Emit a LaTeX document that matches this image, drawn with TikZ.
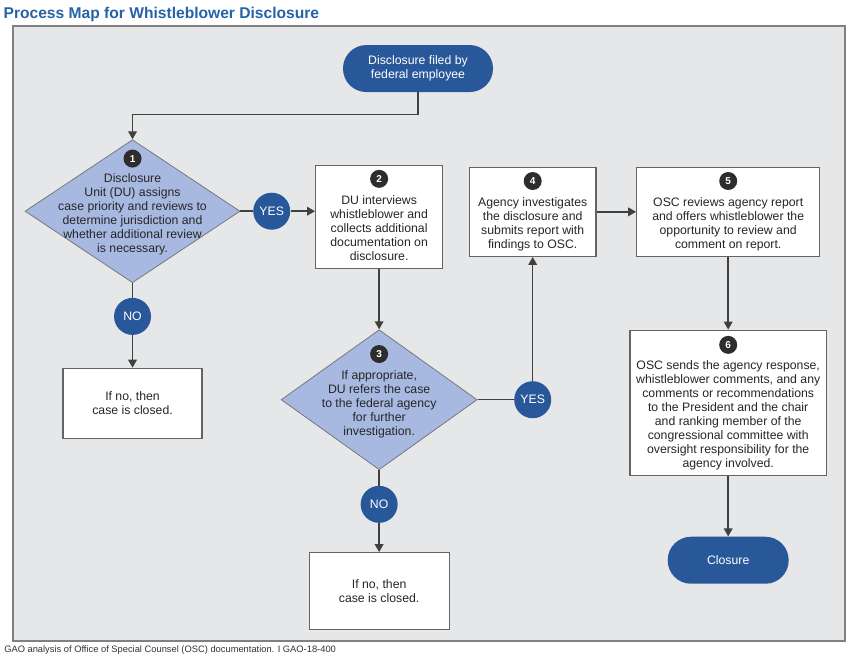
\documentclass[tikz,border=0pt]{standalone}
\usepackage{fontspec}
\setmainfont{Liberation Sans}
\usepackage{tikz}
\usetikzlibrary{shapes.geometric,arrows.meta,positioning}
\newcommand{\bodyfont}{\fontsize{9.2}{10.5}\selectfont}
\newcommand{\numgap}{\rule{0pt}{18.75pt}\\}
\newcommand{\bottomgap}{\rule[-6pt]{0pt}{6pt}}
\tikzstyle{terminal} = [rectangle, rounded corners=17.5pt, minimum width=112.5pt, minimum height=35.25pt, fill=gaoblue, text=white, font=\bodyfont, align=center]
\tikzstyle{decision} = [diamond, draw=decdraw, line width=0.6pt, fill=decfill, inner sep=0pt]
\tikzstyle{dectext} = [inner sep=0pt, align=center, font=\bodyfont, text=black!85]
\tikzstyle{stepbox} = [rectangle, draw=boxdraw, line width=0.9pt, fill=white, inner xsep=3pt, inner ysep=0pt, align=center, font=\bodyfont, text=black!85]
\tikzstyle{closedbox} = [rectangle, draw=boxdraw, line width=0.9pt, fill=white, align=center, font=\bodyfont, text=black!85]
\tikzstyle{numcirc} = [circle, fill=numfill, text=white, minimum size=13.5pt, inner sep=0pt, font=\bfseries\fontsize{7.5}{8}\selectfont]
\tikzstyle{answer} = [circle, fill=gaoblue, text=white, minimum size=27.75pt, inner sep=0pt, font=\bodyfont]
\tikzstyle{link} = [draw=linegray, line width=1.1pt]
\tikzstyle{arrow} = [link, -{Triangle[width=6.5pt,length=6pt]}]
\definecolor{gaoblue}{RGB}{40,88,153}
\definecolor{titleblue}{RGB}{38,98,168}
\definecolor{decfill}{RGB}{167,185,225}
\definecolor{decdraw}{RGB}{120,120,120}
\definecolor{framefill}{RGB}{230,231,232}
\definecolor{framedraw}{RGB}{128,128,128}
\definecolor{linegray}{RGB}{64,64,64}
\definecolor{numfill}{RGB}{45,45,45}
\definecolor{boxdraw}{RGB}{100,100,100}

\begin{document}
\begin{tikzpicture}
\useasboundingbox (0,0) rectangle (637.5pt,-501.75pt);
\draw[framedraw, fill=framefill, line width=1.1pt] (9.75pt,-19.5pt) rectangle (633.75pt,-480.75pt);
\node (title) [anchor=base west, inner sep=0pt, text=titleblue, font=\bfseries\fontsize{11.7}{14}\selectfont] at (2.5pt,-13.5pt) {Process Map for Whistleblower Disclosure};
\node (source) [anchor=base west, inner sep=0pt, text=black!80, font=\fontsize{7}{9}\selectfont] at (3pt,-489pt) {GAO analysis of Office of Special Counsel (OSC) documentation. I GAO-18-400};

% first decision
\node (start) [terminal] at (313.5pt,-51.4pt) {Disclosure filed by\\federal employee};
\node (dec1) [decision, minimum width=161.25pt, minimum height=107.25pt, below=35.25pt of start, xshift=-214.1pt] {};
\node (n1) [numcirc, below=7.5pt of dec1.north] {1};
\node (t1) [dectext] at ([yshift=-2.4pt]dec1.center) {Disclosure\\Unit (DU) assigns\\case priority and reviews to\\determine jurisdiction and\\whether additional review\\is necessary.};
\node (yes1) [answer, right=9.4pt of dec1] {YES};
\node (no1) [answer, below=10.9pt of dec1] {NO};
\node (closed1) [closedbox, minimum width=104.25pt, minimum height=52.5pt, below=24.4pt of no1] {If no, then\\case is closed.};

% interview and referral
\node (du) [stepbox, minimum width=95.25pt, right=18.4pt of yes1, yshift=-4.1pt] {\numgap DU interviews\\whistleblower and\\collects additional\\documentation on\\disclosure.\bottomgap};
\node (n2) [numcirc, below=3.75pt of du.north] {2};
\node (dec3) [decision, minimum width=147pt, minimum height=105pt, below=45.4pt of du] {};
\node (n3) [numcirc, below=11.6pt of dec3.north] {3};
\node (t3) [dectext] at ([yshift=-3.4pt]dec3.center) {If appropriate,\\DU refers the case\\to the federal agency\\for further\\investigation.};
\node (yes3) [answer, right=27.3pt of dec3] {YES};
\node (no3) [answer, below=11.6pt of dec3] {NO};
\node (closed2) [closedbox, minimum width=105pt, minimum height=57.75pt, below=21.75pt of no3] {If no, then\\case is closed.};

% agency and OSC
\node (agency) [stepbox, minimum width=95pt, above=93pt of yes3] {\numgap Agency investigates\\the disclosure and\\submits report with\\findings to OSC.\bottomgap};
\node (n4) [numcirc, below=3.75pt of agency.north] {4};
\node (review) [stepbox, minimum width=137.25pt, right=29.6pt of agency] {\numgap OSC reviews agency report\\and offers whistleblower the\\opportunity to review and\\comment on report.\bottomgap};
\node (n5) [numcirc, below=3.75pt of review.north] {5};
\node (send) [stepbox, minimum width=147.4pt, below=54.5pt of review] {\numgap OSC sends the agency response,\\whistleblower comments, and any\\comments or recommendations\\to the President and the chair\\and ranking member of the\\congressional committee with\\oversight responsibility for the\\agency involved.\bottomgap};
\node (n6) [numcirc, below=4.5pt of send.north] {6};
\node (closure) [terminal, minimum width=90.75pt, below=45.5pt of send] {Closure};

\draw[arrow] (start.south) -- ++(0,-16.5pt) -| (dec1.north);
\draw[link] (dec1.east) -- (yes1);
\draw[arrow] (yes1) -- (yes1 -| du.west);
\draw[link] (dec1.south) -- (no1);
\draw[arrow] (no1) -- (closed1);
\draw[arrow] (du) -- (dec3);
\draw[link] (dec3.east) -- (yes3);
\draw[arrow] (yes3) -- (agency);
\draw[link] (dec3.south) -- (no3);
\draw[arrow] (no3) -- (closed2);
\draw[arrow] (agency) -- (review);
\draw[arrow] (review) -- (send);
\draw[arrow] (send) -- (closure);
\end{tikzpicture}
\end{document}
